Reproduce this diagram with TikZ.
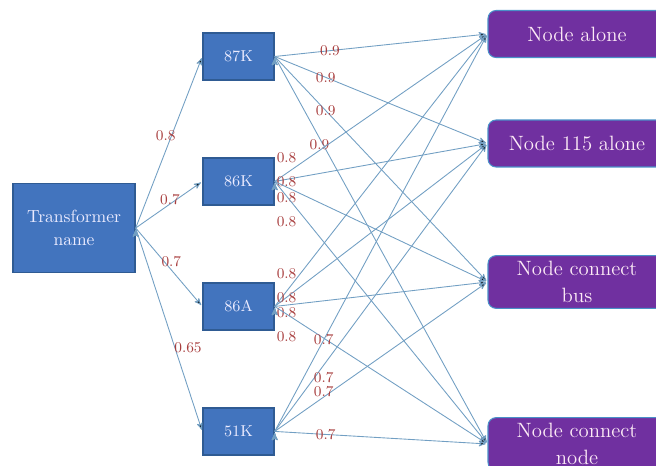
\documentclass[tikz,border=0pt]{standalone}
\usepackage{color}
\usepackage{tikz}
\usetikzlibrary{arrows}

\definecolor{boxblue}{HTML}{4274BE}
\definecolor{boxedge}{HTML}{2F5B93}
\definecolor{nodepurple}{HTML}{7030A0}
\definecolor{purpleedge}{HTML}{4A90C8}
\definecolor{linkblue}{HTML}{729FC3}
\definecolor{wred}{HTML}{A83E3E}

\begin{document}
\begin{tikzpicture}[x=0.02cm,y=-0.02cm,>=stealth',shorten >=1pt,node distance=2.5cm,
    src/.style={draw=boxedge, line width=.8pt, fill=boxblue, text=white!92!blue, align=center,
        minimum width=2.44cm, minimum height=1.78cm, font=\fontsize{10}{13.5}\selectfont},
    mid/.style={draw=boxedge, line width=.8pt, fill=boxblue, text=white!92!blue,
        minimum width=1.42cm, minimum height=0.94cm, font=\fontsize{9}{11}\selectfont},
    target/.style={draw=purpleedge, line width=.6pt, fill=nodepurple, text=white!92!magenta,
        rounded corners=0.16cm, align=center, minimum width=3.56cm, minimum height=0.94cm,
        font=\fontsize{11.8}{15}\selectfont},
    lbl/.style={text=wred, inner sep=0pt, font=\fontsize{8.5}{10}\selectfont},
    link/.style={draw=linkblue, line width=.5pt}]
        \useasboundingbox (0,0) rectangle (656,466);

        \node[src] (tr) at (74,228) {Transformer\\name};
        \node[mid] (k87) at (238.5,56.5) {87K};
        \node[mid] (k86) [below of = k87] {86K};
        \node[mid] (a86) [below of = k86] {86A};
        \node[mid] (k51) [below of = a86] {51K};

        \node[target] (na) at (577,34) {Node alone};
        \node[target] (n115) at (577,143.5) {Node 115 alone};
        \node[target] (ncb) at (577,282) {Node connect\\bus};
        \node[target] (ncn) at (577,444) {Node connect\\node};

        \path[->, link] (tr.east) edge node[lbl, pos=.54, xshift=-.12cm] {0.8} (k87.west);
        \path[->, link] (tr.east) edge node[lbl, pos=.62, xshift=-.14cm] {0.7} (k86.west);
        \path[->, link] (tr.east) edge node[lbl, pos=.43, xshift=.14cm] {0.7} (a86.west);
        \path[->, link] (tr.east) edge node[lbl, pos=.59, xshift=.26cm] {0.65} (k51.west);

        \path[->, link] (k87.east) edge node[lbl, pos=.26] {0.9} (na.west);
        \path[->, link] (k87.east) edge node[lbl, pos=.24] {0.9} (n115.west);
        \path[->, link] (k87.east) edge node[lbl, pos=.24] {0.9} (ncb.west);
        \path[->, link] (k87.east) edge node[lbl, pos=.21, yshift=-.14cm] {0.9} (ncn.west);

        \path[->, link] (k86.east) edge node[lbl, pos=.056, yshift=.32cm] {0.8} (na.west);
        \path[->, link] (k86.east) edge node[lbl, pos=.056, yshift=-.04cm] {0.8} (n115.west);
        \path[->, link] (k86.east) edge node[lbl, pos=.056, yshift=-.22cm] {0.8} (ncb.west);
        \path[->, link] (k86.east) edge node[lbl, pos=.056, yshift=-.52cm] {0.8} (ncn.west);

        \path[->, link] (a86.east) edge node[lbl, pos=.056, yshift=.36cm] {0.8} (na.west);
        \path[->, link] (a86.east) edge node[lbl, pos=.056] {0.8} (n115.west);
        \path[->, link] (a86.east) edge node[lbl, pos=.056, yshift=-.16cm] {0.8} (ncb.west);
        \path[->, link] (a86.east) edge node[lbl, pos=.056, yshift=-.46cm] {0.8} (ncn.west);

        \path[->, link] (k51.east) edge node[lbl, pos=.23] {0.7} (na.west);
        \path[->, link] (k51.east) edge node[lbl, pos=.23, yshift=-.24cm] {0.7} (n115.west);
        \path[->, link] (k51.east) edge node[lbl, pos=.23, yshift=.1cm] {0.7} (ncb.west);
        \path[->, link] (k51.east) edge node[lbl, pos=.24] {0.7} (ncn.west);
      \end{tikzpicture}
\end{document}
